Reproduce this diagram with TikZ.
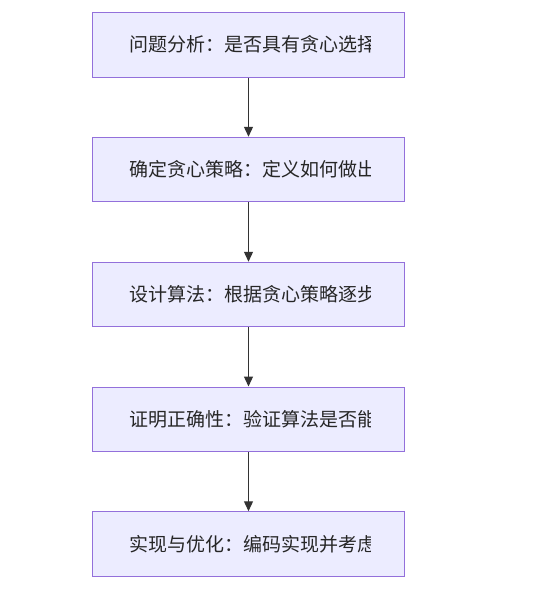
\documentclass[tikz,border=0pt]{standalone}
\usepackage{fontspec}
\newfontfamily\cjk{Noto Sans CJK SC}
\usetikzlibrary{arrows.meta}
\definecolor{boxfill}{HTML}{ECECFF}
\definecolor{boxline}{HTML}{9370DB}
\definecolor{arrline}{HTML}{333333}
\tikzset{
  stepbox/.style={draw=boxline, fill=boxfill, line width=1pt, minimum width=312pt, minimum height=64.5pt, inner sep=0pt},
  steptext/.style={anchor=west, inner sep=0pt, font=\cjk\fontsize{19}{19}\selectfont, text=black!85},
  arr/.style={draw=arrline, line width=1.3pt, -{Triangle[length=10pt,width=9pt]}}
}
\begin{document}
\begin{tikzpicture}[x=1pt,y=-1pt]
\useasboundingbox (0,0) rectangle (537,616);
\node[stepbox] (b1) at (248.5,44.75) {};
\node[stepbox] (b2) at (248.5,169.5) {};
\node[stepbox] (b3) at (248.5,294.5) {};
\node[stepbox] (b4) at (248.5,419.25) {};
\node[stepbox] (b5) at (248.5,544) {};
\begin{scope}
\clip (92,0) rectangle (370.7,616);
\node[steptext] (t1) at (129,44.75) {问题分析：是否具有贪心选择};
\node[steptext] (t2) at (129,169.5) {确定贪心策略：定义如何做出};
\node[steptext] (t3) at (129,294.5) {设计算法：根据贪心策略逐步};
\node[steptext] (t4) at (129,419.25) {证明正确性：验证算法是否能};
\node[steptext] (t5) at (129,544) {实现与优化：编码实现并考虑};
\end{scope}
\draw[arr] (b1.south) -- (b2.north);
\draw[arr] (b2.south) -- (b3.north);
\draw[arr] (b3.south) -- (b4.north);
\draw[arr] (b4.south) -- (b5.north);
\end{tikzpicture}
\end{document}
